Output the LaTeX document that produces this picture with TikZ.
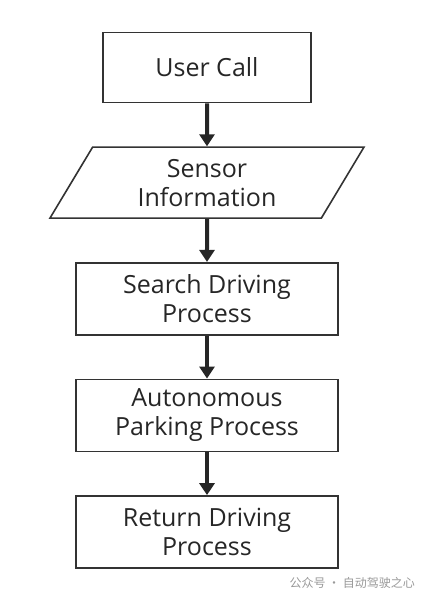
\documentclass[tikz,border=0pt]{standalone}
\usepackage{fontspec}
\setmainfont{Open Sans}
\newfontfamily\cjk{Noto Sans CJK SC}
\usetikzlibrary{positioning,shapes.geometric,arrows.meta}

\begin{document}
\begin{tikzpicture}[
    node distance=43pt,
    process/.style={draw=black!80, line width=1.6pt, minimum width=262pt,
        minimum height=72pt, align=center, text=black!85, inner sep=0pt,
        font=\fontsize{25}{29}\selectfont},
    io/.style={process, trapezium, trapezium left angle=48,
        trapezium right angle=132, trapezium stretches body,
        minimum width=314pt, minimum height=71pt},
    flow/.style={-{Triangle[length=12pt,width=15pt]}, line width=4pt, draw=black!85}
]
    \useasboundingbox (0,0) rectangle (422pt,-600pt);
    \node[process, minimum width=208pt, minimum height=70pt] (call) at (207pt,-67.5pt) {User Call};
    \node[io, below=of call] (sensor) {Sensor\\Information};
    \node[process, below=of sensor] (search) {Search Driving\\Process};
    \node[process, below=of search] (parking) {Autonomous\\Parking Process};
    \node[process, below=of parking] (return) {Return Driving\\Process};
    \draw[flow] (call) -- (sensor);
    \draw[flow] (sensor) -- (search);
    \draw[flow] (search) -- (parking);
    \draw[flow] (parking) -- (return);
    % watermark
    \node[anchor=west, text=black!40, font=\cjk\fontsize{12}{14}\selectfont] (mark) at (286pt,-583pt) {公众号 · 自动驾驶之心};
\end{tikzpicture}
\end{document}
